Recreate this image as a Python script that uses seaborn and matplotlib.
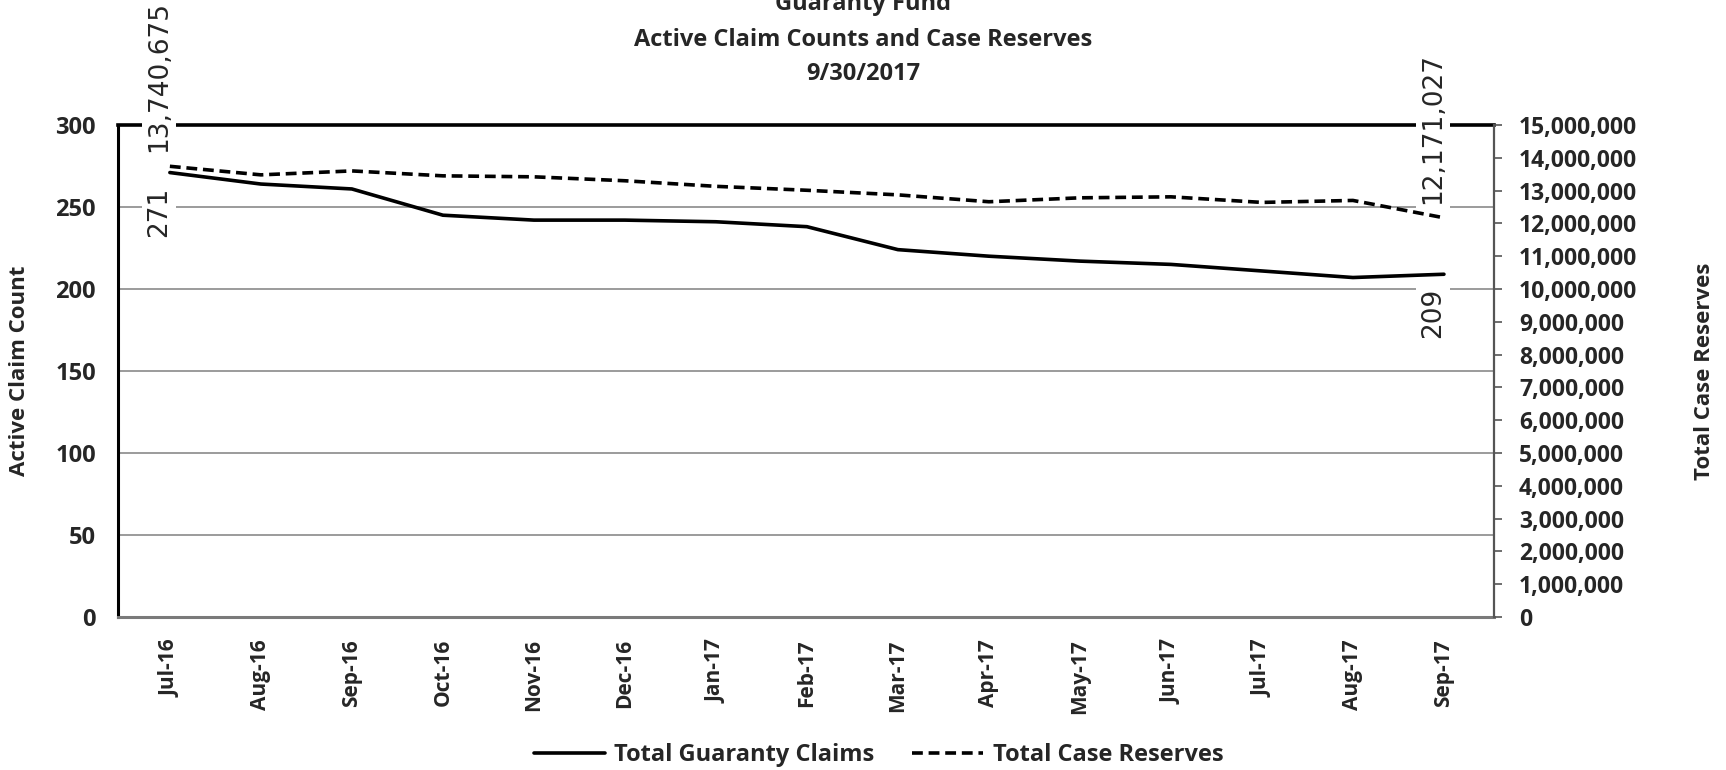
import matplotlib
matplotlib.use("Agg")
import matplotlib.pyplot as plt
import seaborn as sns
import pandas as pd
from matplotlib.lines import Line2D
from matplotlib.ticker import FuncFormatter, MultipleLocator

months = ["Jul-16", "Aug-16", "Sep-16", "Oct-16", "Nov-16", "Dec-16", "Jan-17",
          "Feb-17", "Mar-17", "Apr-17", "May-17", "Jun-17", "Jul-17", "Aug-17", "Sep-17"]
claims = [271, 264, 261, 245, 242, 242, 241, 238, 224, 220, 217, 215, 211, 207, 209]
reserves = [13740675, 13480000, 13600000, 13450000, 13420000, 13300000, 13130000,
            13010000, 12870000, 12660000, 12780000, 12810000, 12640000, 12700000, 12171027]
title_lines = ["Guaranty Fund", "Active Claim Counts and Case Reserves", "9/30/2017"]
series_names = ["Total Guaranty Claims", "Total Case Reserves"]

sns.set_theme(style="white")
plt.rcParams['font.family'] = ['Open Sans', 'DejaVu Sans']
plt.rcParams['font.weight'] = 'bold'
plt.rcParams['axes.labelweight'] = 'bold'

df = pd.DataFrame({"month": months, "claims": claims, "reserves": reserves})
df["pos"] = range(len(df))

fig = plt.figure(figsize=(17.26, 7.70), dpi=100)
ax = fig.add_axes([118/1726, 1-617/770, (1494-118)/1726, (617-125)/770])
ax2 = ax.twinx()

sns.lineplot(data=df, x="pos", y="claims", ax=ax, color="black", lw=2.6,
             sort=False, legend=False)
sns.lineplot(data=df, x="pos", y="reserves", ax=ax2, color="black", lw=2.6,
             sort=False, legend=False, dashes=False)
ax2.lines[0].set_dashes((3, 1.6))

ax.set_xlim(-0.57, 14.55)
ax.set_ylim(0, 300)
ax2.set_ylim(0, 15000000)
ax.set_xticks(df["pos"])
ax.set_xticklabels(months, rotation=90, fontweight="bold", fontsize=15)
ax.yaxis.set_major_locator(MultipleLocator(50))
ax2.yaxis.set_major_locator(MultipleLocator(1000000))
ax2.yaxis.set_major_formatter(FuncFormatter(lambda v, p: f"{int(v):,}"))

ax.grid(False)
ax2.grid(False)
ax.yaxis.grid(True, color="#8a8a8a", lw=1.2)
ax.set_axisbelow(True)

for s in ["top", "left", "right", "bottom"]:
    ax.spines[s].set_visible(False)
ax.spines["top"].set_visible(True)
ax.spines["top"].set_color("black")
ax.spines["top"].set_linewidth(2.6)
ax.spines["left"].set_visible(True)
ax.spines["left"].set_color("black")
ax.spines["left"].set_linewidth(2.2)
ax.spines["bottom"].set_visible(True)
ax.spines["bottom"].set_color("#7a7a7a")
ax.spines["bottom"].set_linewidth(2.2)
for s in ["top", "left", "bottom"]:
    ax2.spines[s].set_visible(False)
ax2.spines["right"].set_visible(True)
ax2.spines["right"].set_color("#555555")
ax2.spines["right"].set_linewidth(1.6)

ax.tick_params(axis="y", left=False, length=0, pad=16, labelsize=17)
ax.tick_params(axis="x", bottom=False, length=0, pad=16)
ax2.tick_params(axis="y", right=True, direction="out", length=6, width=1.2,
                color="#555555", pad=12, labelsize=16.5)

ax.set_xlabel("")
ax.set_ylabel("Active Claim Count", fontsize=16, fontweight="bold")
ax.yaxis.set_label_coords(-0.064, 0.5)
ax2.set_ylabel("Total Case Reserves", fontsize=16, fontweight="bold")
ax2.yaxis.set_label_coords(1.1453, 0.5)

bbox = dict(boxstyle="square,pad=0.15", fc="white", ec="none")
lab_font = dict(family="DejaVu Sans", fontsize=19, fontweight="normal")
for i in [0, len(months) - 1]:
    ax2.annotate(f"{reserves[i]:,}", xy=(i, reserves[i]), xycoords=ax2.transData,
                 xytext=(-8, 10), textcoords="offset points", rotation=90,
                 ha="center", va="bottom", bbox=bbox, zorder=5, **lab_font)
    ax2.annotate(f"{claims[i]:,}", xy=(i, claims[i]), xycoords=ax.transData,
                 xytext=(-8, -10), textcoords="offset points", rotation=90,
                 ha="center", va="top", bbox=bbox, zorder=5, **lab_font)

ys = [1 - 4/770, 1 - 40.5/770, 1 - 74.5/770]
for txt, y in zip(title_lines, ys):
    fig.text(0.5, y, txt, ha="center", va="center", fontsize=17, fontweight="bold")

handles = [Line2D([0], [0], color="black", lw=2.6),
           Line2D([0], [0], color="black", lw=2.6, dashes=(3, 1.6))]
fig.legend(handles, series_names, loc="center", bbox_to_anchor=(0.509, 1 - 755/770),
           ncol=2, frameon=False, handlelength=3.0, columnspacing=1.6,
           prop=dict(weight="bold", size=17), handletextpad=0.4)

fig.savefig("out.png", dpi=100)
